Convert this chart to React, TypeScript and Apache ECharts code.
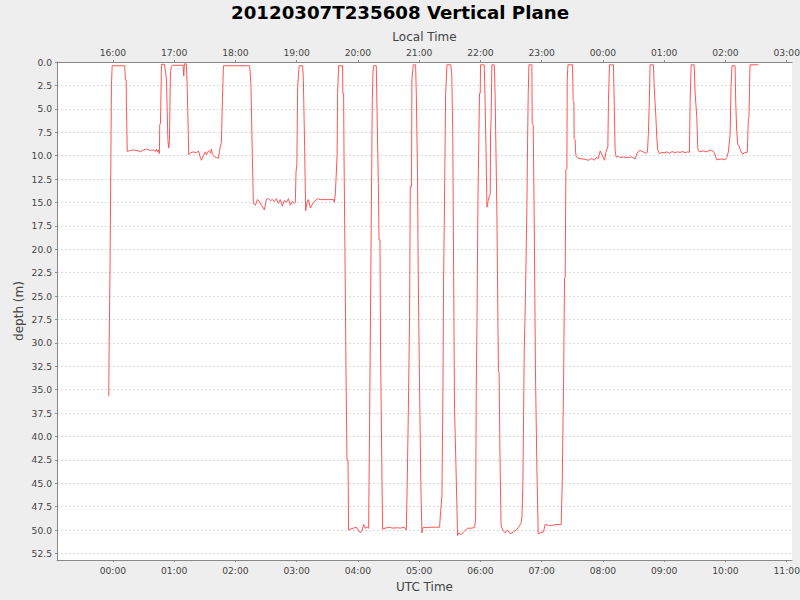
import React, { useEffect, useRef } from "react";
import * as echarts from "echarts";

const titleText = "20120307T235608 Vertical Plane";
const bottomAxisName = "UTC Time";
const topAxisName = "Local Time";
const depthAxisName = "depth (m)";

// minutes after 2012-03-08 00:00 UTC
const timeMinutesUTC = [
  -4.0, -3.7, -2.8, -1.9, -1.4, -0.7,
  11.6, 12.3, 13.0, 13.3, 13.8, 14.1,
  17.2, 21.1, 25.1, 27.0, 30.0, 32.9, 36.8, 39.7, 41.7, 42.7, 43.7, 44.6, 45.6,
  45.9, 46.6, 47.6, 50.5, 52.0, 52.5, 53.9, 54.7, 55.4, 56.4, 57.4, 58.3, 68.8, 69.4, 70.1, 72.0, 72.7, 73.3, 74.3,
  76.0, 78.9, 81.8, 83.8, 85.7, 86.7, 88.7, 90.6, 91.6, 93.6, 95.5, 96.5, 97.5, 99.4, 101.4, 103.3, 104.3, 105.3, 106.3, 107.3, 108.3,
  134.0, 135.2, 136.6, 137.6,
  139.6, 141.5, 143.5, 145.5, 147.4, 148.4, 150.3, 152.3, 154.3, 156.2, 158.2, 160.1, 162.1, 164.0, 166.0, 168.0, 169.9, 171.9, 173.8, 175.8, 177.8, 178.7,
  179.4, 180.2, 181.0, 182.4, 185.9, 186.6, 187.8, 188.8, 190.2, 191.4, 193.4, 196.3, 200.6, 203.2, 209.1, 216.2, 216.9, 217.9, 219.6, 220.1, 221.1, 225.0, 225.2, 226.0, 226.4, 227.3, 228.3, 229.3, 230.3, 230.9,
  232.6, 235.5, 238.5, 240.4, 242.4, 244.3, 245.6, 247.3, 249.2, 250.5,
  251.2, 252.1, 253.1, 254.1, 254.8, 255.4, 258.0, 258.7, 260.0, 260.7, 261.6, 262.2, 263.6, 264.2,
  266.8, 269.8, 274.7, 278.6, 281.5, 285.4, 287.4,
  288.3, 289.3, 290.6, 291.3, 292.5, 292.9, 294.2, 296.5, 297.2, 298.4, 299.0, 300.3, 301.7, 302.7,
  303.9, 307.8, 310.8, 315.7, 320.0, 320.7, 322.3, 322.9, 323.3, 323.9, 324.9, 325.9, 326.5, 327.2, 330.9, 331.9, 332.9, 333.7, 334.6, 336.0, 337.6,
  338.6, 341.0, 343.5, 347.5, 351.7, 354.3, 355.3,
  355.9, 356.6, 357.6, 358.2, 359.1, 359.8, 360.1, 363.7, 364.4, 365.4, 366.4, 367.0, 367.6, 368.9, 369.6, 369.9, 370.5, 371.2, 373.4, 373.8, 374.4, 376.1, 377.6, 378.3, 379.0, 380.2,
  381.9, 384.2, 386.5, 389.2, 392.4, 395.1, 397.3, 399.7, 400.7,
  401.6, 402.9, 404.2, 405.5, 406.1, 406.8, 407.5, 410.4, 410.7, 411.7, 412.6, 413.9, 415.3, 416.6,
  418.5, 421.8, 423.4, 426.7, 430.0, 434.9, 439.1,
  440.1, 441.4, 442.4, 443.0, 443.7, 444.7, 445.0, 445.7, 450.2, 450.8, 451.5, 451.8, 452.8, 453.1, 453.8,
  455.8, 459.4, 462.6, 465.9, 469.2, 471.7, 473.4, 475.4, 477.3, 480.0, 481.5, 482.9, 484.8, 485.4, 486.4, 490.3, 491.0, 491.9, 492.9,
  495.2, 496.8, 500.1, 503.4, 508.3, 511.5, 513.2, 514.7, 516.4, 519.3, 522.2, 523.6, 524.5, 525.5, 526.2, 529.4, 530.4, 531.8, 532.8, 533.7, 535.3,
  537.7, 539.9, 542.6, 545.1, 547.8, 550.4, 552.9, 555.6, 557.9, 560.5, 562.7, 564.7, 565.4, 566.4, 569.3, 570.3, 571.9, 572.9, 574.5, 578.4, 581.7, 584.9, 588.2, 589.8, 591.5, 596.4, 599.6, 601.3, 602.8, 604.5, 605.5, 606.4, 609.4, 610.0, 611.0, 612.0, 613.3, 614.9, 616.9, 619.1, 621.4, 622.4, 623.0, 624.0, 632.2,
];

const depthMetres = [
  35.7, 30.8, 22.2, 9.4, 2.5, 0.4,
  0.4, 1.9, 1.9, 4.8, 4.8, 9.55,
  9.45, 9.4, 9.5, 9.6, 9.4, 9.3, 9.45, 9.4, 9.55, 9.3, 9.6, 9.4, 9.8,
  6.7, 6.6, 0.25, 0.25, 1.4, 2.0, 8.3, 9.2, 8.5, 1.0, 0.5, 0.35, 0.35, 1.5, 0.2, 0.2, 2.3, 5.0, 9.9,
  9.7, 9.6, 9.7, 9.5, 10.2, 10.5, 10.0, 9.6, 9.9, 9.5, 9.7, 9.3, 9.9, 10.1, 10.2, 10.3, 9.6, 9.0, 8.6, 4.0, 0.4,
  0.4, 2.3, 10.0, 15.1,
  15.3, 14.7, 14.9, 15.3, 15.6, 15.8, 14.7, 14.6, 14.8, 14.7, 14.9, 14.6, 15.1, 14.7, 15.4, 14.8, 15.0, 14.6, 15.3, 14.9, 15.1, 15.0,
  11.7, 11.0, 2.6, 0.4, 0.4, 2.0, 9.0, 15.9, 15.0, 14.7, 15.6, 15.0, 14.6, 14.7, 14.7, 14.7, 15.0, 14.1, 10.0, 3.4, 0.4, 0.4, 3.35, 3.35, 10.1, 20.1, 32.6, 42.5, 42.5, 50.0,
  49.9, 49.8, 49.7, 50.0, 50.3, 50.0, 49.4, 49.8, 49.7, 49.8,
  41.5, 30.0, 16.5, 4.0, 1.0, 0.4, 0.4, 5.1, 13.0, 19.0, 19.0, 30.8, 45.0, 49.9,
  49.8, 49.7, 49.8, 49.75, 49.8, 49.7, 50.0,
  45.0, 38.0, 27.2, 13.3, 13.3, 1.9, 0.3, 0.3, 3.4, 12.0, 21.9, 34.0, 45.5, 50.3,
  49.7, 49.75, 49.7, 49.7, 49.7, 48.5, 46.3, 46.3, 35.0, 23.6, 14.0, 3.5, 3.5, 0.3, 0.3, 1.3, 7.5, 21.5, 37.0, 43.0, 50.6,
  50.3, 50.5, 50.2, 49.8, 49.8, 49.7, 48.8,
  35.0, 28.0, 14.5, 10.0, 3.35, 3.35, 0.3, 0.3, 3.3, 9.0, 15.5, 15.2, 14.8, 14.3, 14.1, 7.8, 6.0, 0.3, 0.3, 1.0, 3.6, 16.0, 32.9, 33.2, 41.0, 49.5,
  50.0, 50.3, 50.0, 50.4, 50.2, 50.0, 49.7, 49.3, 48.5,
  45.0, 31.0, 24.5, 15.5, 9.5, 3.4, 0.3, 0.3, 6.6, 6.7, 16.0, 33.0, 43.5, 50.4,
  50.3, 50.2, 49.4, 49.5, 49.5, 49.4, 49.4,
  45.0, 34.5, 23.1, 23.0, 11.5, 11.4, 2.0, 0.3, 0.3, 4.1, 4.2, 8.2, 8.3, 9.6, 10.1,
  10.3, 10.35, 10.4, 10.5, 10.3, 10.5, 10.2, 10.3, 9.5, 10.1, 10.5, 9.65, 9.05, 4.1, 0.3, 0.3, 4.1, 9.4, 10.15,
  10.1, 10.2, 10.15, 10.2, 10.15, 10.35, 9.8, 9.55, 9.45, 9.6, 9.75, 9.65, 7.6, 3.8, 0.3, 0.3, 3.1, 5.8, 8.2, 9.4, 9.8,
  9.65, 9.7, 9.6, 9.75, 9.55, 9.7, 9.6, 9.65, 9.55, 9.7, 9.6, 9.65, 4.1, 0.3, 0.3, 3.4, 5.8, 9.3, 9.6, 9.5, 9.6, 9.4, 9.55, 9.9, 10.45, 10.35, 10.45, 10.2, 9.6, 7.8, 2.6, 0.4, 0.4, 4.1, 7.3, 8.8, 9.0, 9.5, 9.85, 9.65, 9.65, 6.1, 5.9, 0.3, 0.3,
];

const utcTickHours = [0, 1, 2, 3, 4, 5, 6, 7, 8, 9, 10, 11];
const utcAxisMinHours = -0.912;
const utcAxisMaxHours = 11.086;
const localOffsetHours = -8;
const depthMin = 0;
const depthMax = 53.2;
const depthStep = 2.5;

const FONT = "DejaVu Sans";

function hourLabel(h: number): string {
  const hh = ((Math.round(h) % 24) + 24) % 24;
  return String(hh).padStart(2, "0") + ":00";
}

export default function App() {
  const ref = useRef<HTMLDivElement>(null);

  useEffect(() => {
    if (!ref.current) return;
    const chart = echarts.init(ref.current, null, { renderer: "svg" });
    const data = timeMinutesUTC.map((m, i) => [m / 60, depthMetres[i]]);

    const axisLineStyle = { color: "#888888", width: 1 };
    const labelStyle = { fontFamily: FONT, fontSize: 9.2, color: "#444444" };
    const nameStyle = { fontFamily: FONT, fontSize: 12, color: "#444444" };

    chart.setOption({
      animation: false,
      backgroundColor: "#eeeeee",
      title: {
        text: titleText,
        left: "center",
        top: 3,
        padding: 0,
        textStyle: { fontFamily: FONT, fontSize: 18.2, fontWeight: "bold", color: "#000000" },
      },
      grid: {
        left: 57,
        right: 8,
        top: 62,
        bottom: 40,
        show: true,
        backgroundColor: "#ffffff",
        borderWidth: 0,
        containLabel: false,
        outerBoundsMode: "none",
      },
      xAxis: [
        {
          type: "value",
          position: "bottom",
          min: utcAxisMinHours,
          max: utcAxisMaxHours,
          name: bottomAxisName,
          nameLocation: "middle",
          nameGap: 21,
          nameMoveOverlap: false,
          nameTextStyle: nameStyle,
          axisLine: { show: true, onZero: false, lineStyle: axisLineStyle },
          axisTick: { show: true, length: 2, inside: false, customValues: utcTickHours, lineStyle: axisLineStyle },
          axisLabel: { ...labelStyle, margin: 6, customValues: utcTickHours, formatter: (v: number) => hourLabel(v) },
          splitLine: { show: false },
        },
        {
          type: "value",
          position: "top",
          min: utcAxisMinHours,
          max: utcAxisMaxHours,
          name: topAxisName,
          nameLocation: "middle",
          nameGap: 19,
          nameMoveOverlap: false,
          nameTextStyle: nameStyle,
          axisLine: { show: true, onZero: false, lineStyle: axisLineStyle },
          axisTick: { show: true, length: 2, inside: false, customValues: utcTickHours, lineStyle: axisLineStyle },
          axisLabel: {
            ...labelStyle,
            margin: 5,
            customValues: utcTickHours,
            formatter: (v: number) => hourLabel(v + localOffsetHours),
          },
          splitLine: { show: false },
        },
      ],
      yAxis: {
        type: "value",
        position: "left",
        inverse: true,
        min: depthMin,
        max: depthMax,
        interval: depthStep,
        name: depthAxisName,
        nameLocation: "middle",
        nameGap: 32,
        nameMoveOverlap: false,
        nameTextStyle: nameStyle,
        axisLine: { show: true, onZero: false, lineStyle: axisLineStyle },
        axisTick: { show: true, length: 2, lineStyle: axisLineStyle },
        axisLabel: {
          ...labelStyle,
          margin: 5,
          showMaxLabel: false,
          formatter: (v: number) => v.toFixed(1),
        },
        splitLine: { show: true, lineStyle: { color: "#dcdcdc", width: 1, type: [2, 2] } },
      },
      series: [
        {
          type: "line",
          data,
          xAxisIndex: 0,
          yAxisIndex: 0,
          symbol: "none",
          showSymbol: false,
          lineStyle: { color: "#ff5555", width: 1 },
        },
      ],
    });

    return () => chart.dispose();
  }, []);

  return (
    <div
      ref={ref}
      style={{ position: "absolute", left: 0, top: 0, width: 800, height: 600 }}
    />
  );
}
